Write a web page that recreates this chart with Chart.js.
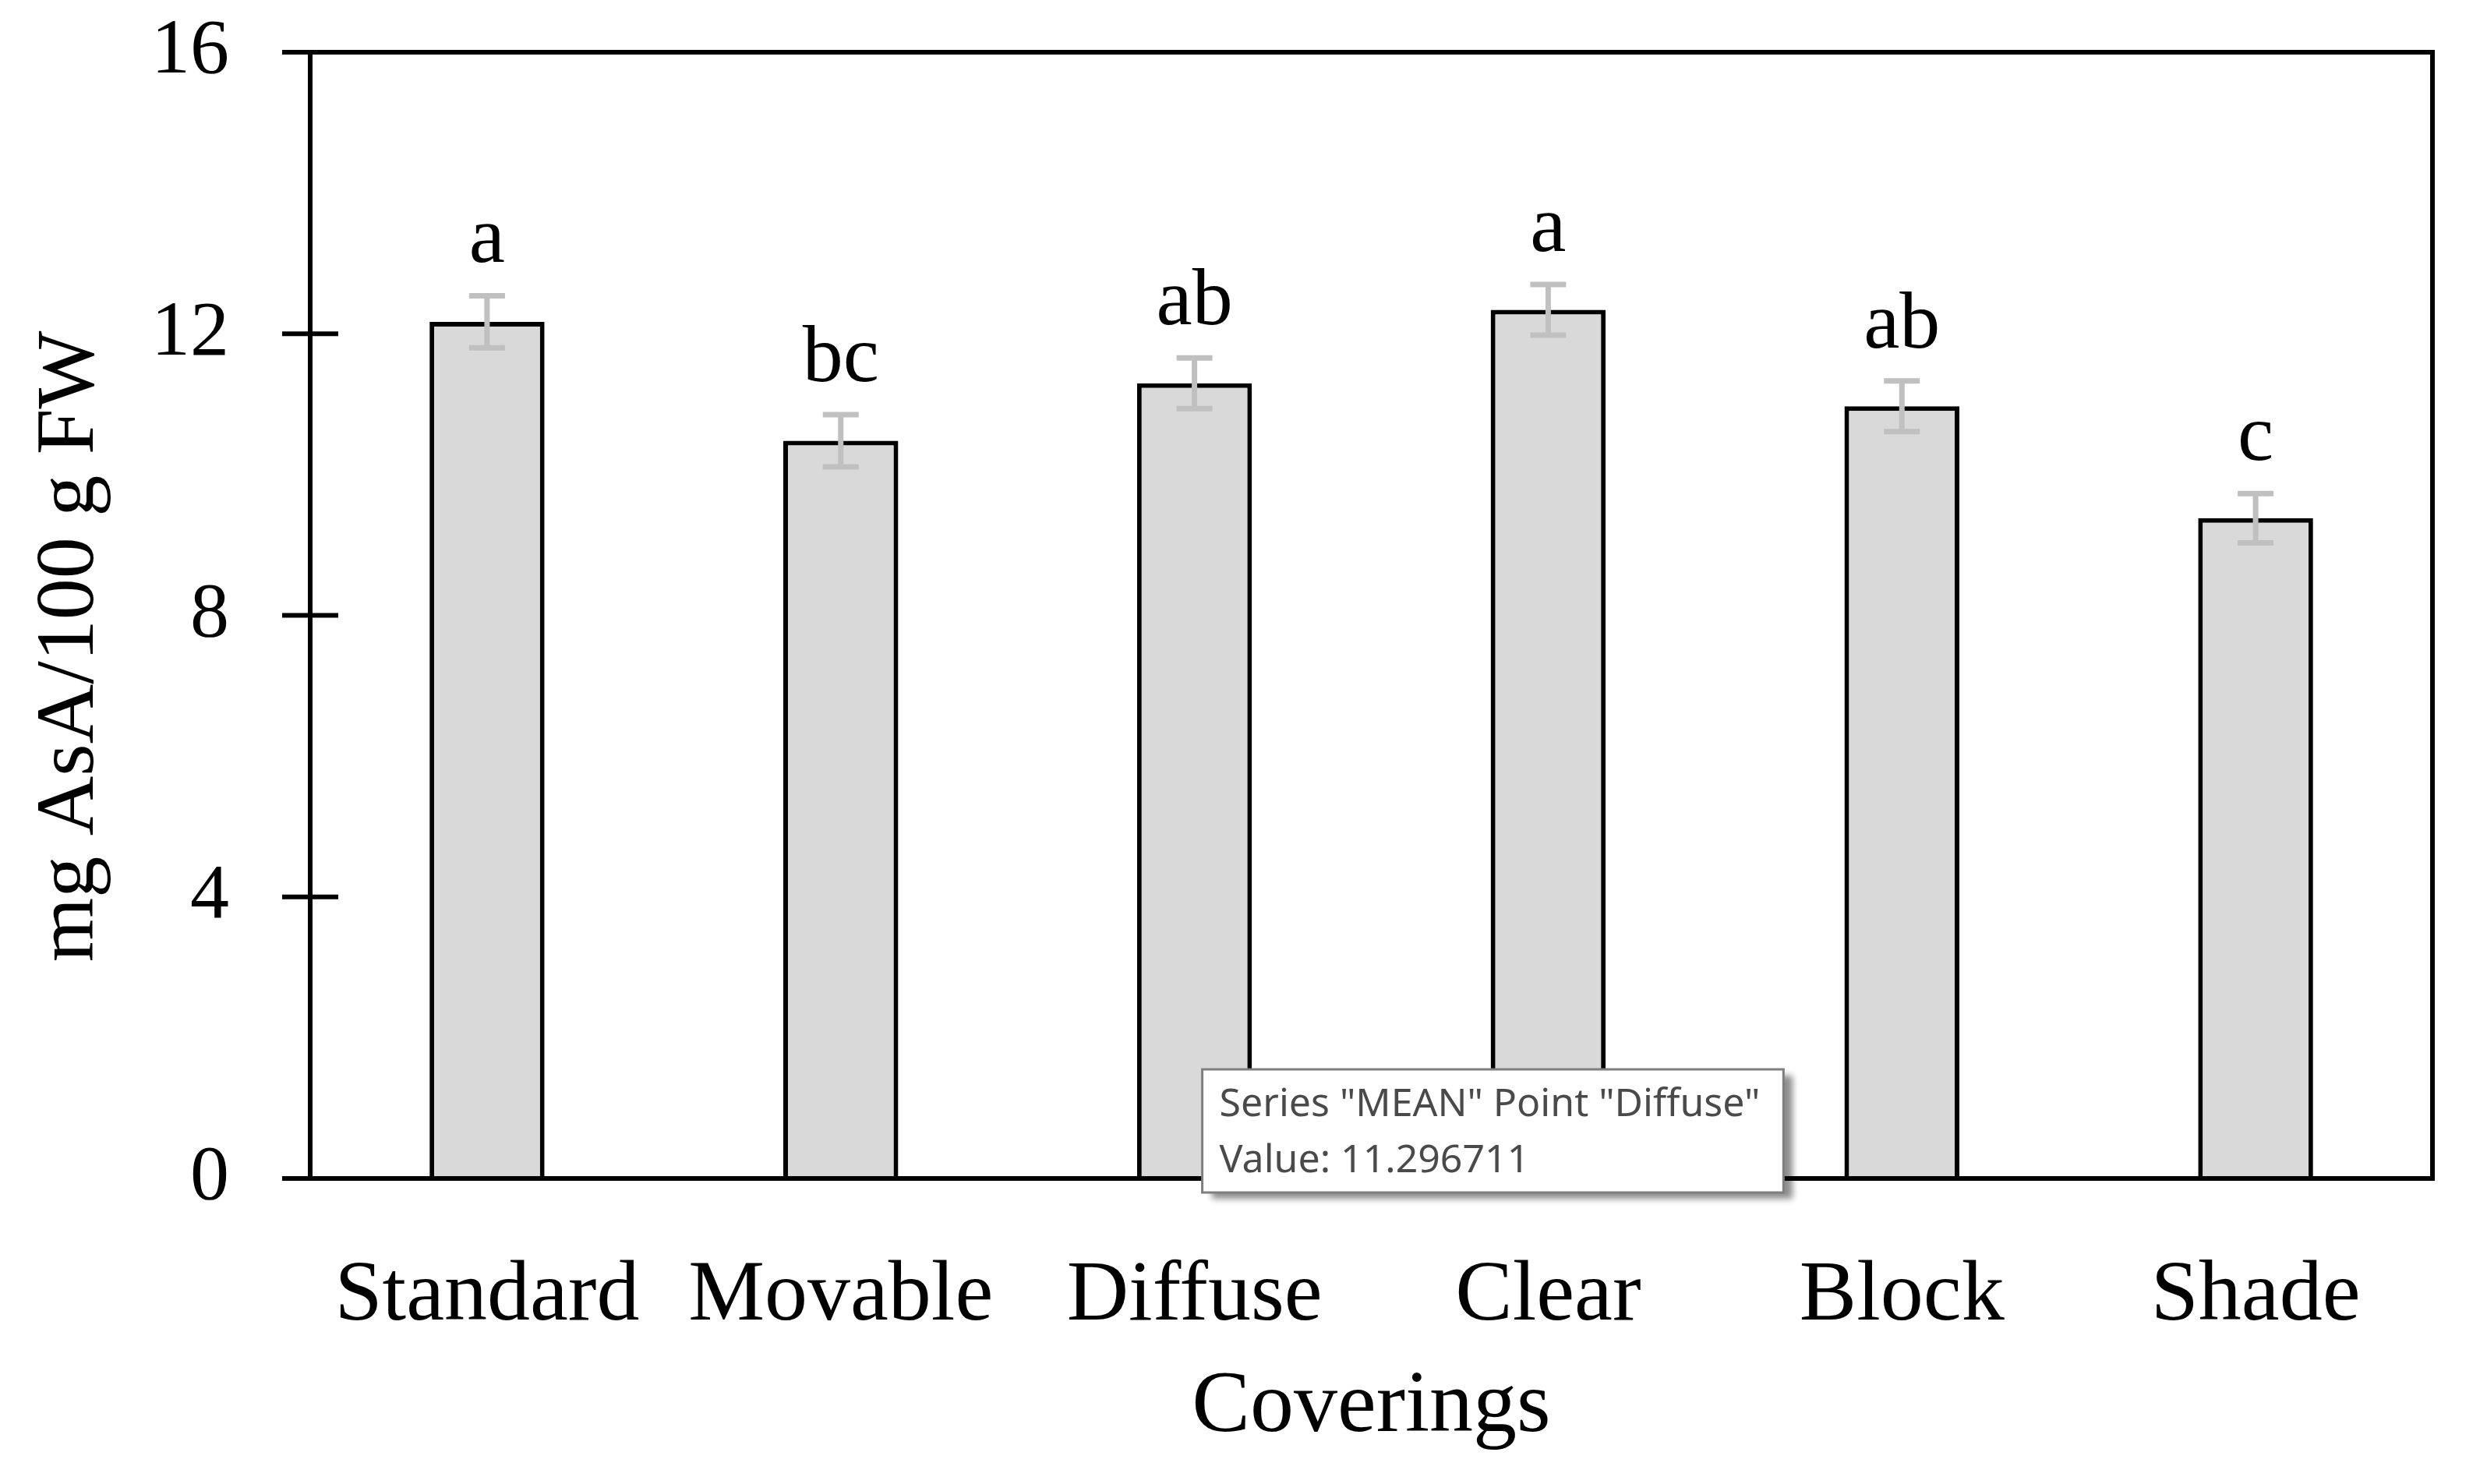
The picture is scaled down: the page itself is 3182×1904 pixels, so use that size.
<!DOCTYPE html>
<html>
<head>
<meta charset="utf-8">
<script src="https://cdn.jsdelivr.net/npm/chart.js@4.4.1/dist/chart.umd.min.js"></script>
<style>
	html, body { margin: 0; padding: 0; background: #fff; }
	canvas { display: block; }
</style>
</head>
<body>
<canvas id="myChart" width="3182" height="1904"></canvas>
<script>
var coverings = ['Standard', 'Movable', 'Diffuse', 'Clear', 'Block', 'Shade'];
var meanValues = [12.17, 10.48, 11.296711, 12.34, 10.97, 9.38];
var errValues = [0.37, 0.37, 0.36, 0.36, 0.36, 0.35];
var letters = ['a', 'bc', 'ab', 'a', 'ab', 'c'];
var yTicks = [0, 4, 8, 12, 16];
var hoverIndex = 2; // Excel tooltip was left open on "Diffuse"

var serif = 'Liberation Serif';
Chart.defaults.font.family = serif;
Chart.defaults.color = '#000';

// đặt tooltip gần đáy trục, bên phải tâm cột
Chart.Tooltip.positioners.excel = function (elements) {
	if (!elements.length) return false;
	return { x: elements[0].element.x + 10, y: this.chart.chartArea.bottom - 140 };
};

// khung, vạch chia, thanh sai số, chữ cái
var framePlugin = {
	id: 'frame',
	afterDatasetsDraw: function (chart) {
		var ctx = chart.ctx;
		var area = chart.chartArea;
		var x = chart.scales.x, y = chart.scales.y;
		ctx.save();

		// error bars
		ctx.strokeStyle = '#c0c0c0';
		ctx.lineWidth = 7;
		for (var i = 0; i < meanValues.length; i++) {
			var cx = x.getPixelForValue(i);
			var top = y.getPixelForValue(meanValues[i] + errValues[i]);
			var bot = y.getPixelForValue(meanValues[i] - errValues[i]);
			ctx.beginPath();
			ctx.moveTo(cx, top); ctx.lineTo(cx, bot);
			ctx.moveTo(cx - 23, top); ctx.lineTo(cx + 23, top);
			ctx.moveTo(cx - 23, bot); ctx.lineTo(cx + 23, bot);
			ctx.stroke();
		}

		// letters above error bars
		ctx.fillStyle = '#000';
		ctx.font = '104px "' + serif + '"';
		ctx.textAlign = 'center';
		ctx.textBaseline = 'alphabetic';
		for (var j = 0; j < letters.length; j++) {
			var lx = x.getPixelForValue(j);
			var ly = y.getPixelForValue(meanValues[j] + errValues[j]) - 43;
			ctx.fillText(letters[j], lx, ly);
		}

		// frame
		ctx.strokeStyle = '#000';
		ctx.lineWidth = 6;
		ctx.strokeRect(area.left, area.top, area.right - area.left, area.bottom - area.top);

		// y ticks crossing the axis
		ctx.lineWidth = 6;
		ctx.beginPath();
		yTicks.forEach(function (v) {
			var py = y.getPixelForValue(v);
			ctx.moveTo(area.left - 36, py);
			ctx.lineTo(area.left + 36, py);
		});
		ctx.stroke();
		ctx.restore();
	},
	beforeTooltipDraw: function (chart, args) {
		var tip = args.tooltip;
		if (!tip || !tip.opacity) return;
		var ctx = chart.ctx;
		ctx.save();
		ctx.shadowColor = 'rgba(0,0,0,0.45)';
		ctx.shadowBlur = 8;
		ctx.shadowOffsetX = 12;
		ctx.shadowOffsetY = 8;
		ctx.fillStyle = '#fff';
		ctx.fillRect(tip.x, tip.y, tip.width, tip.height);
		ctx.restore();
	}
};

var ctx = document.getElementById('myChart').getContext('2d');

var myBarChart = new Chart(ctx, {
	type: 'bar',
	data: {
		labels: coverings,
		datasets: [{
			label: 'MEAN',
			data: meanValues,
			backgroundColor: '#d9d9d9',
			borderColor: '#000',
			borderWidth: 6,
			borderSkipped: 'start',
			categoryPercentage: 1,
			barPercentage: 0.325
		}]
	},
	options: {
		responsive: false,
		animation: false,
		events: [],
		layout: { padding: { left: 0, top: 67, right: 61, bottom: 0 } },
		plugins: {
			legend: { display: false },
			tooltip: {
				enabled: true,
				position: 'excel',
				xAlign: 'left',
				yAlign: 'top',
				caretSize: 0,
				caretPadding: 0,
				cornerRadius: 0,
				displayColors: false,
				backgroundColor: '#fff',
				borderColor: '#7f7f7f',
				borderWidth: 3,
				titleColor: '#4a4a4a',
				bodyColor: '#4a4a4a',
				titleFont: { family: 'Noto Sans', size: 50, weight: 'normal' },
				bodyFont: { family: 'Noto Sans', size: 50 },
				titleMarginBottom: 12,
				padding: { left: 22, right: 30, top: 16, bottom: 10 },
				callbacks: {
					title: function (items) { return 'Series "MEAN" Point "' + items[0].label + '"'; },
					label: function (item) { return 'Value: ' + item.raw; }
				}
			}
		},
		scales: {
			x: {
				grid: { display: false, drawTicks: false },
				border: { display: false },
				ticks: { font: { size: 110 }, padding: 86, maxRotation: 0, autoSkip: false },
				title: { display: true, text: 'Coverings', font: { size: 112 }, padding: { top: 0, bottom: 30 } },
				afterFit: function (scale) {
					scale.height = 392;
					scale.paddingLeft = 0;
					scale.paddingRight = 0;
				}
			},
			y: {
				min: 0,
				max: 16,
				grid: { display: false, drawTicks: false },
				border: { display: false },
				ticks: { stepSize: 4, font: { size: 100 }, padding: 104 },
				title: { display: true, text: 'mg AsA/100 g FW   ', font: { size: 106 }, padding: { top: 28, bottom: 0 } },
				afterFit: function (scale) {
					scale.width = 398;
					scale.paddingTop = 0;
					scale.paddingBottom = 0;
				}
			}
		}
	},
	plugins: [framePlugin]
});

myBarChart.tooltip.setActiveElements([{ datasetIndex: 0, index: hoverIndex }], { x: 0, y: 0 });
myBarChart.update();
</script>
</body>
</html>
